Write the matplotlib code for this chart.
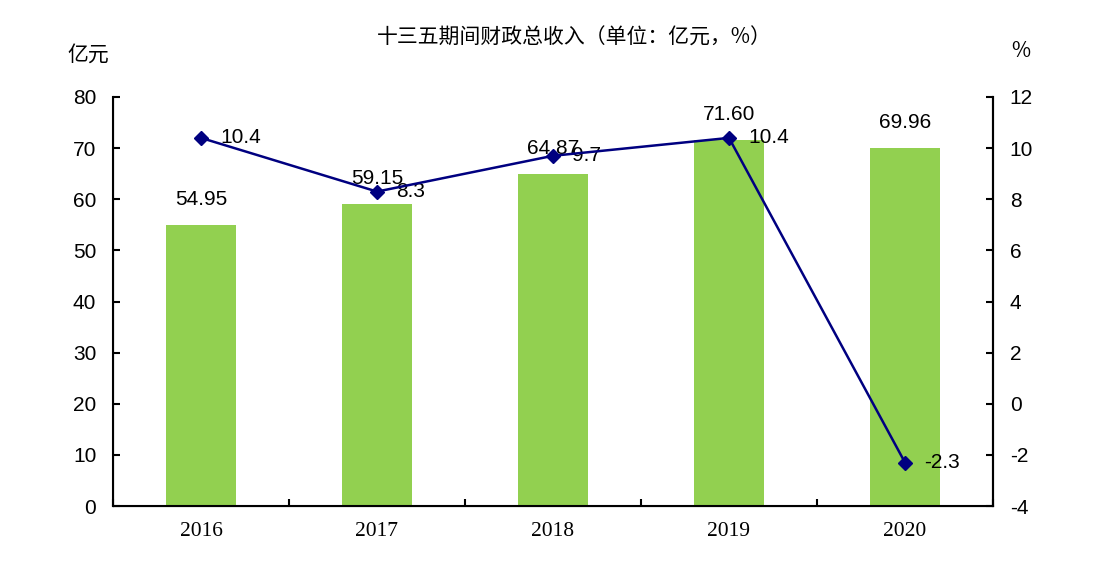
import matplotlib.pyplot as plt
import numpy as np

years = ["2016", "2017", "2018", "2019", "2020"]
revenue = [54.95, 59.15, 64.87, 71.60, 69.96]
growth = [10.4, 8.3, 9.7, 10.4, -2.3]

C_BAR = "#92D050"
C_LINE = "#000080"
CJK = ["Noto Sans CJK SC", "DejaVu Sans"]
NUM = "Liberation Sans"
plt.rcParams["axes.unicode_minus"] = False

fig = plt.figure(figsize=(11.01, 5.87), dpi=100)
ax = fig.add_axes([113 / 1101, 1 - 506 / 587, (993 - 113) / 1101, (506 - 97) / 587])
x = np.arange(len(years))

ax.bar(x, revenue, width=0.4, color=C_BAR, zorder=2)
ax.set_ylim(0, 80)
ax.set_xlim(-0.5, 4.5)
ax.set_yticks(range(0, 81, 10))
ax.set_xticks(np.arange(-0.5, 4.6, 1.0))
ax.set_xticklabels([])
ax.tick_params(axis="both", direction="in", length=5, width=1.5)
ax.tick_params(axis="y", labelsize=15, pad=12)
for lbl in ax.get_yticklabels():
    lbl.set_fontfamily(NUM)
for xi, yr in zip(x, years):
    ax.text(xi, -0.04, yr, transform=ax.get_xaxis_transform(), ha="center",
            va="top", fontsize=15.5, family="Liberation Serif")
ax.spines["top"].set_visible(False)
for s in ("left", "bottom", "right"):
    ax.spines[s].set_linewidth(1.5)

for xi, v in zip(x, revenue):
    ax.text(xi, v + 5.0, f"{v:.2f}", ha="center", va="center", fontsize=15,
            family=NUM, zorder=5)

ax2 = ax.twinx()
ax2.plot(x, growth, color=C_LINE, marker="D", markersize=7.5, linewidth=1.8, zorder=4)
ax2.set_ylim(-4, 12)
ax2.set_yticks(range(-4, 13, 2))
ax2.tick_params(axis="y", direction="in", length=5, width=1.5, labelsize=15, pad=12)
for lbl in ax2.get_yticklabels():
    lbl.set_fontfamily(NUM)
ax2.spines["top"].set_visible(False)
ax2.spines["right"].set_linewidth(1.5)
for xi, g in zip(x, growth):
    ax2.annotate(f"{g:.1f}", (xi, g), xytext=(14, 0), textcoords="offset points",
                 ha="left", va="center", fontsize=15, family=NUM)

fig.text(0.522, 1 - 38 / 587, "十三五期间财政总收入（单位：亿元，%）", ha="center",
         va="center", fontsize=15, family=CJK)
fig.text(88 / 1101, 1 - 55 / 587, "亿元", ha="center", va="center", fontsize=15,
         family=CJK)
fig.text(1021 / 1101, 1 - 51 / 587, "%", ha="center", va="center", fontsize=15,
         family=CJK)

fig.savefig("out.png", dpi=100)
